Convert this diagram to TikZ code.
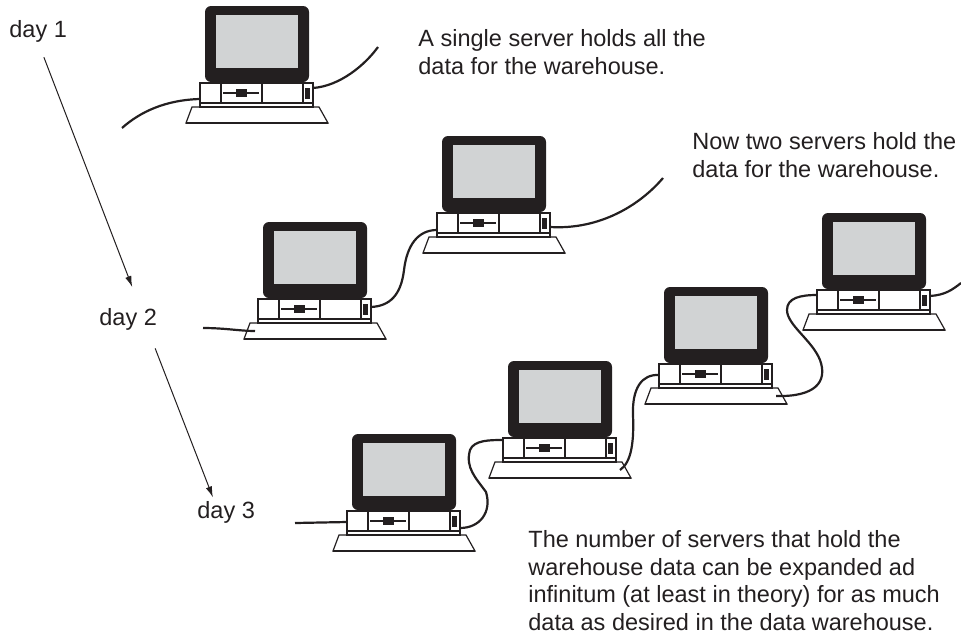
\documentclass[tikz,border=0pt]{standalone}
\usepackage{fontspec}
\setmainfont{Liberation Sans}
\usetikzlibrary{arrows.meta}

\definecolor{pcblack}{HTML}{231F20}
\definecolor{screengray}{HTML}{D1D3D4}

\begin{document}
\begin{tikzpicture}[x=0.5pt, y=-0.5pt,
  pc line/.style={draw=pcblack, line width=0.6pt},
  cable/.style={draw=pcblack, line width=1.1pt},
  label/.style={font=\fontsize{11.75}{13.7}\selectfont, text=pcblack, inner sep=0pt, anchor=base west, align=left},
  day arrow/.style={draw=pcblack, line width=0.5pt, -{Latex[length=5.5pt, width=3.2pt]}},
  server/.pic={
    % keyboard
    \draw[pc line, fill=white] (-13,101) -- (114,101) -- (123,117) -- (-19,117) -- cycle;
    \draw[pcblack, line width=1pt] (-19,117) -- (123,117);
    % base unit
    \draw[pc line, fill=white] (-5,77) rectangle (108,97);
    \draw[pc line, fill=white] (-5,97) rectangle (108,101);
    \draw[pc line] (16,77) -- (16,97) (57,77) -- (57,97) (98,77) -- (98,97);
    \draw[pc line] (18,87) -- (54,87);
    \fill[pcblack] (31,83) rectangle (42,91);
    \fill[pcblack] (100,82) rectangle (105,93);
    % monitor
    \fill[pcblack, rounded corners=3pt] (0,0) rectangle (104,76);
    \fill[screengray] (11,9) rectangle (93,62);
    \draw[pc line] (31,75) -- (31,78) (72,75) -- (72,78);
    \coordinate (-l) at (-5,88);
    \coordinate (-r) at (108,88);
    \coordinate (-kl) at (-8,109);
    \coordinate (-kr) at (112,109);
  }]
\useasboundingbox (0,0) rectangle (961,637);

\node[label] (day1) at (9,37) {day 1};
\node[label] (day2) at (99,325) {day 2};
\node[label] (day3) at (197,518) {day 3};
\draw[day arrow, shorten <=8pt, shorten >=11pt] (day1.south) -- ([xshift=6pt]day2.north);
\draw[day arrow, shorten <=9.7pt, shorten >=1.7pt] ([xshift=10pt]day2.south) -- ([xshift=-6pt]day3.north);

\coordinate (e1) at (122,128);
\coordinate (e2) at (378,47);
\coordinate (e3) at (203,328);
\coordinate (e4) at (663,178);
\coordinate (e5) at (295,523);
\coordinate (e6) at (961,283);

\pic (s1) at (205,6) {server};
\pic (s2) at (263,222) {server};
\pic (s3) at (442,136) {server};
\foreach \i/\x/\y in {4/352/434, 5/508/361, 6/664/287, 7/822/213}
  \pic (s\i) at (\x,\y) {server};

% day 1
\draw[cable] ([yshift=-2.5pt]s1-l) .. controls +(-35,1) and +(18,-16) .. (e1);
\draw[cable] ([yshift=3pt]s1-r) .. controls +(27,-2) and +(-13,18) .. (e2);

% day 2
\draw[cable] (e3) .. controls +(22,0) and +(-15,0) .. (s2-kl);
\draw[cable] ([yshift=1.5pt]s2-r) .. controls +(19,-1) and (401,295) .. (404,270)
  .. controls (407,245) and (418,230) .. ([yshift=-3pt]s3-l);
\draw[cable] ([yshift=-1.5pt]s3-r) .. controls +(50,3) and +(-23,27) .. (e4);

% day 3
\draw[cable] (e5) -- (s4-l);
\draw[cable] ([yshift=-3pt]s4-r) .. controls +(20,0) and (492,512) .. (486,492)
  .. controls (476,478) and (465,468) .. (470,450)
  .. controls (474,440) and (490,440) .. ([yshift=4.5pt]s5-l);
\draw[cable] (s5-kr) .. controls +(12,-8) and (634,440) .. (633,415)
  .. controls (632,388) and (642,374) .. (s6-l);
\draw[cable] (s6-kr) .. controls +(39,1) and (828,382) .. (820,360)
  .. controls (812,340) and (787,325) .. (787,310)
  .. controls (787,298) and (800,295) .. ([yshift=3pt]s7-l);
\draw[cable] ([yshift=2.5pt]s7-r) .. controls +(15,-1) and +(-9,7) .. (e6);

\node[label] (note1) at (418,74) {A single server holds all the\\data for the warehouse.};
\node[label] (note2) at (692,177) {Now two servers hold the\\data for the warehouse.};
\node[label] (note3) at (528,630) {The number of servers that hold the\\warehouse data can be expanded ad\\infinitum (at least in theory) for as much\\data as desired in the data warehouse.};
\end{tikzpicture}
\end{document}
